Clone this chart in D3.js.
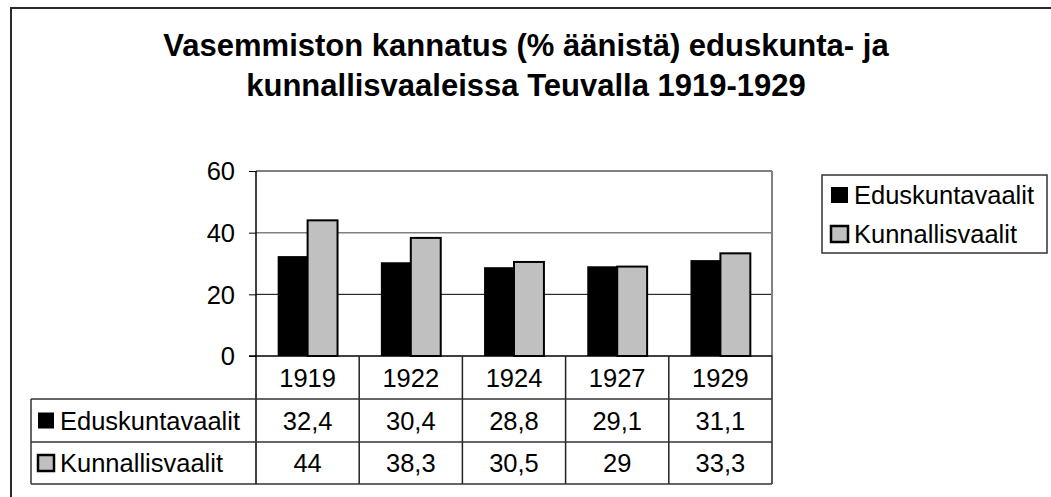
<!DOCTYPE html>
<html>
<head>
<meta charset="utf-8">
<script src="https://cdn.jsdelivr.net/npm/d3@7"></script>
<style>
  body { margin: 0; background: #fff; }
  text { font-family: "Liberation Sans", Arial, sans-serif; fill: #000; }
</style>
</head>
<body>
<div id="chart"></div>
<script>
// data
var years = ["1919", "1922", "1924", "1927", "1929"];
var seriesNames = ["Eduskuntavaalit", "Kunnallisvaalit"];
var eduskunta = [32.4, 30.4, 28.8, 29.1, 31.1];
var kunnallis = [44, 38.3, 30.5, 29, 33.3];
var yTicks = [0, 20, 40, 60];
var titleLines = ["Vasemmiston kannatus (% äänistä) eduskunta- ja",
                  "kunnallisvaaleissa Teuvalla 1919-1929"];

var seriesValues = [eduskunta, kunnallis];
var fills = ["#000000", "#c0c0c0"];

var width = 1051, height = 497;
var plot = {left: 256, right: 772, top: 171, bottom: 356};
var tableLeft = 31,
    rowLines = [399, 442, 484];
var fontSize = "25.5px";

var svg = d3.select("#chart").append("svg")
    .attr("width", width)
    .attr("height", height);

// outer frame (continues past the right and bottom edge)
svg.append("rect")
    .attr("x", 11)
    .attr("y", 8)
    .attr("width", 1200)
    .attr("height", 700)
    .attr("fill", "none")
    .attr("stroke", "#2a2a2a")
    .attr("stroke-width", 2);

// title
svg.selectAll(".title")
  .data(titleLines)
  .enter()
  .append("text")
    .attr("class", "title")
    .attr("x", 526)
    .attr("y", function(d, i) { return 56 + i * 40; })
    .attr("text-anchor", "middle")
    .style("font-size", "31px")
    .style("font-weight", "bold")
    .text(function(d) { return d; });

// scales
var y = d3.scaleLinear().domain([0, 60]).range([plot.bottom, plot.top]);
var xCell = d3.scaleBand().domain(years).range([plot.left, plot.right]).padding(0);
var x = d3.scaleBand().domain(years).range([plot.left, plot.right])
    .paddingInner(0.42).paddingOuter(0.21);
var x1 = d3.scaleBand().domain(seriesNames).range([0, x.bandwidth()]);

// gridlines
var gridStyle = {0: ["#000", 1], 20: ["#000", 1], 40: ["#808080", 1.5], 60: ["#808080", 2]};
svg.selectAll(".grid")
  .data(yTicks.filter(function(d) { return d > 0; }))
  .enter()
  .append("line")
    .attr("class", "grid")
    .attr("x1", plot.left)
    .attr("x2", plot.right)
    .attr("y1", function(d) { return y(d); })
    .attr("y2", function(d) { return y(d); })
    .attr("stroke", function(d) { return gridStyle[d][0]; })
    .attr("stroke-width", function(d) { return gridStyle[d][1]; });

// plot area right border
svg.append("line")
    .attr("x1", plot.right).attr("x2", plot.right)
    .attr("y1", plot.top).attr("y2", plot.bottom)
    .attr("stroke", "#808080")
    .attr("stroke-width", 2);

// bars
var groups = svg.selectAll(".group")
  .data(years)
  .enter()
  .append("g")
    .attr("class", "group")
    .attr("transform", function(d) { return "translate(" + x(d) + ",0)"; });

groups.selectAll("rect")
  .data(function(d, i) {
    return seriesNames.map(function(s, j) { return {s: s, j: j, v: seriesValues[j][i]}; });
  })
  .enter()
  .append("rect")
    .attr("x", function(d) { return x1(d.s); })
    .attr("y", function(d) { return y(d.v); })
    .attr("width", x1.bandwidth())
    .attr("height", function(d) { return y(0) - y(d.v); })
    .attr("fill", function(d) { return fills[d.j]; })
    .attr("stroke", "#000")
    .attr("stroke-width", function(d) { return d.j == 1 ? 2 : 0; });

// y axis
var yAxis = d3.axisLeft(y).tickValues(yTicks).tickSize(7).tickPadding(14);
var yg = svg.append("g")
    .attr("transform", "translate(" + plot.left + ",0)")
    .call(yAxis);
yg.select(".domain").remove();
yg.selectAll(".tick line").attr("stroke", "#000");
yg.selectAll(".tick text")
    .style("font-size", fontSize)
    .attr("dy", "0.35em");

// y axis line runs down through the data table
svg.append("line")
    .attr("x1", plot.left).attr("x2", plot.left)
    .attr("y1", plot.top).attr("y2", rowLines[2])
    .attr("stroke", "#000")
    .attr("stroke-width", 1.5);

// x axis line
svg.append("line")
    .attr("x1", plot.left - 7).attr("x2", plot.right)
    .attr("y1", plot.bottom).attr("y2", plot.bottom)
    .attr("stroke", "#000")
    .attr("stroke-width", 1.5);

// data table: vertical separators
svg.selectAll(".vsep")
  .data(years.slice(1).concat(["end"]))
  .enter()
  .append("line")
    .attr("class", "vsep")
    .attr("x1", function(d) { return d == "end" ? plot.right : xCell(d); })
    .attr("x2", function(d) { return d == "end" ? plot.right : xCell(d); })
    .attr("y1", plot.bottom)
    .attr("y2", rowLines[2])
    .attr("stroke", "#222")
    .attr("stroke-width", 1.5);

// data table: horizontal lines
svg.selectAll(".hsep")
  .data(rowLines)
  .enter()
  .append("line")
    .attr("class", "hsep")
    .attr("x1", tableLeft)
    .attr("x2", plot.right)
    .attr("y1", function(d) { return d; })
    .attr("y2", function(d) { return d; })
    .attr("stroke", "#333")
    .attr("stroke-width", 1.5);

svg.append("line")
    .attr("x1", tableLeft).attr("x2", tableLeft)
    .attr("y1", rowLines[0]).attr("y2", rowLines[2])
    .attr("stroke", "#333")
    .attr("stroke-width", 1.5);

// header row: years
svg.selectAll(".yearLabel")
  .data(years)
  .enter()
  .append("text")
    .attr("class", "yearLabel")
    .attr("x", function(d) { return xCell(d) + xCell.bandwidth() / 2; })
    .attr("y", (plot.bottom + rowLines[0]) / 2 + 9)
    .attr("text-anchor", "middle")
    .style("font-size", fontSize)
    .text(function(d) { return d; });

function fmt(v) { return String(v).replace(".", ","); }

// table rows
seriesNames.forEach(function(name, j) {
  var cy = (rowLines[j] + rowLines[j + 1]) / 2;
  svg.append("rect")
      .attr("x", 38)
      .attr("y", cy - 8)
      .attr("width", 16)
      .attr("height", 16)
      .attr("fill", fills[j])
      .attr("stroke", "#000")
      .attr("stroke-width", j == 1 ? 2.5 : 0);
  svg.append("text")
      .attr("x", 60)
      .attr("y", cy + 9)
      .style("font-size", fontSize)
      .text(name);
  svg.selectAll(".cell" + j)
    .data(seriesValues[j])
    .enter()
    .append("text")
      .attr("class", "cell" + j)
      .attr("x", function(d, i) { return xCell(years[i]) + xCell.bandwidth() / 2; })
      .attr("y", cy + 9)
      .attr("text-anchor", "middle")
      .style("font-size", fontSize)
      .text(function(d) { return fmt(d); });
});

// legend
var legend = svg.append("g").attr("transform", "translate(822,175)");
legend.append("rect")
    .attr("width", 225)
    .attr("height", 78)
    .attr("fill", "#fff")
    .attr("stroke", "#333")
    .attr("stroke-width", 1.5);
var items = legend.selectAll(".item")
  .data(seriesNames)
  .enter()
  .append("g")
    .attr("class", "item")
    .attr("transform", function(d, i) { return "translate(0," + (20 + i * 39) + ")"; });
items.append("rect")
    .attr("x", 9)
    .attr("y", -8)
    .attr("width", 17)
    .attr("height", 16)
    .attr("fill", function(d, i) { return fills[i]; })
    .attr("stroke", "#000")
    .attr("stroke-width", function(d, i) { return i == 1 ? 2.5 : 0; });
items.append("text")
    .attr("x", 32)
    .attr("y", 9)
    .style("font-size", fontSize)
    .text(function(d) { return d; });
</script>
</body>
</html>
